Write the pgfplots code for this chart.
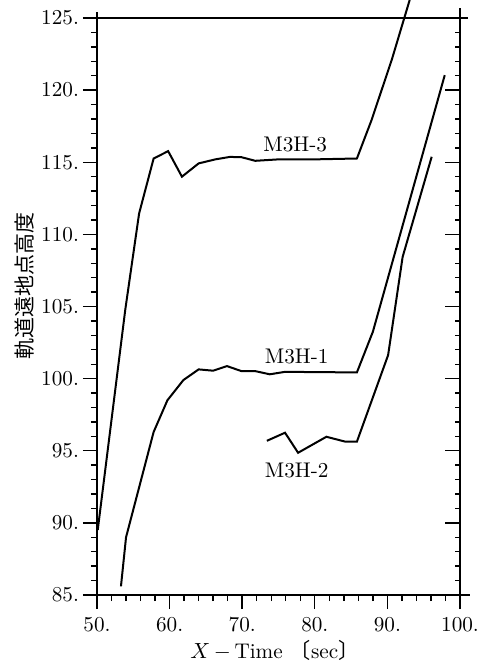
\documentclass[border=0pt]{standalone}
\usepackage{fontspec}
\newfontfamily\cjk{Noto Sans CJK JP}
\usepackage{pgfplots}
\pgfplotsset{compat=1.18}
\usepackage{pgfplotstable}
\usetikzlibrary{calc}

\pgfplotstableread{
x y
50.1 89.5
53.9 104.8
55.8 111.45
57.8 115.26
59.8 115.77
61.7 114.0
64.0 114.92
66.3 115.2
68.3 115.37
69.9 115.35
71.8 115.1
75.0 115.2
80.0 115.2
85.8 115.26
87.8 117.9
90.6 122.1
93.1 126.3
}\mthree

\pgfplotstableread{
x y
53.3 85.6
54.0 89.0
57.8 96.3
59.7 98.5
61.9 99.9
64.0 100.64
66.0 100.55
67.9 100.87
69.9 100.52
71.8 100.52
73.8 100.3
75.9 100.47
85.8 100.43
88.0 103.25
97.9 121.04
}\mone

\pgfplotstableread{
x y
73.4 95.69
75.9 96.25
77.7 94.86
81.6 95.97
84.2 95.63
85.8 95.63
90.1 101.63
92.1 108.44
96.1 115.38
}\mtwo

\newcommand\fs{\fontsize{10.6}{12.7}\selectfont}

\begin{document}
\begin{tikzpicture}
\begin{axis}[name=ax, scale only axis, width=181.5pt, height=288.5pt,
  xmin=50, xmax=100, ymin=85, ymax=125, clip=false,
  axis line style={line width=0.9pt},
  tick label style={font=\fs},
  xticklabel style={yshift=-0.5pt},
  yticklabel style={xshift=1.5pt},
  xtick={50,60,...,100}, xticklabels={50.,60.,70.,80.,90.,100.},
  ytick={85,90,...,125}, yticklabels={85.,90.,95.,100.,105.,110.,115.,120.,125.},
  minor x tick num=4, minor y tick num=4,
  xtick pos=bottom, ytick pos=left, tick align=outside,
  major tick length=7pt, minor tick length=3pt,
  tick style={line width=0.7pt, black},
  xlabel={\fs$X\,{-}\,$Time\ {\cjk 〔}sec{\cjk 〕}},
  xlabel style={at={(rel axis cs:0.49,0)}, anchor=center, yshift=-27.5pt},
  ylabel={\cjk\fontsize{10.5}{12}\selectfont 軌道遠地点高度},
  ylabel style={at={($(rel axis cs:0,0.535)+(-36pt,0)$)}, anchor=center, rotate=0},
]
\addplot[black, line width=1pt] table[x=x,y=y] {\mthree};
\addplot[black, line width=1pt] table[x=x,y=y] {\mone};
\addplot[black, line width=1pt] table[x=x,y=y] {\mtwo};
\node[font=\fs] at (axis cs:77.3,116.2) {M3H-3};
\node[font=\fs] at (axis cs:77.5,101.5) {M3H-1};
\node[font=\fs] at (axis cs:77.5,93.66) {M3H-2};
\end{axis}
\begin{axis}[scale only axis, width=181.5pt, height=288.5pt,
  xmin=50, xmax=100, ymin=85, ymax=125,
  hide x axis, axis y line=right, axis line style={draw=none},
  ytick={85,90,...,125}, yticklabels={}, minor y tick num=4,
  tick align=inside, major tick length=7.5pt, minor tick length=2.5pt,
  tick style={line width=0.7pt, black},
]
\addplot[draw=none] coordinates {(50,85)};
\end{axis}
\draw[line width=0.9pt] (ax.north west) -- ++(0,3pt);
\draw[line width=0.9pt] (ax.north east) -- ++(0,5pt);
\draw[line width=0.9pt] (ax.north east) -- ++(4pt,0);
\draw[line width=0.9pt] (ax.south east) -- ++(5pt,0);
\pgfresetboundingbox
\path[use as bounding box] ($(ax.south west)+(-48.5pt,-34pt)$) rectangle ($(ax.north east)+(11pt,9pt)$);
\end{tikzpicture}
\end{document}
